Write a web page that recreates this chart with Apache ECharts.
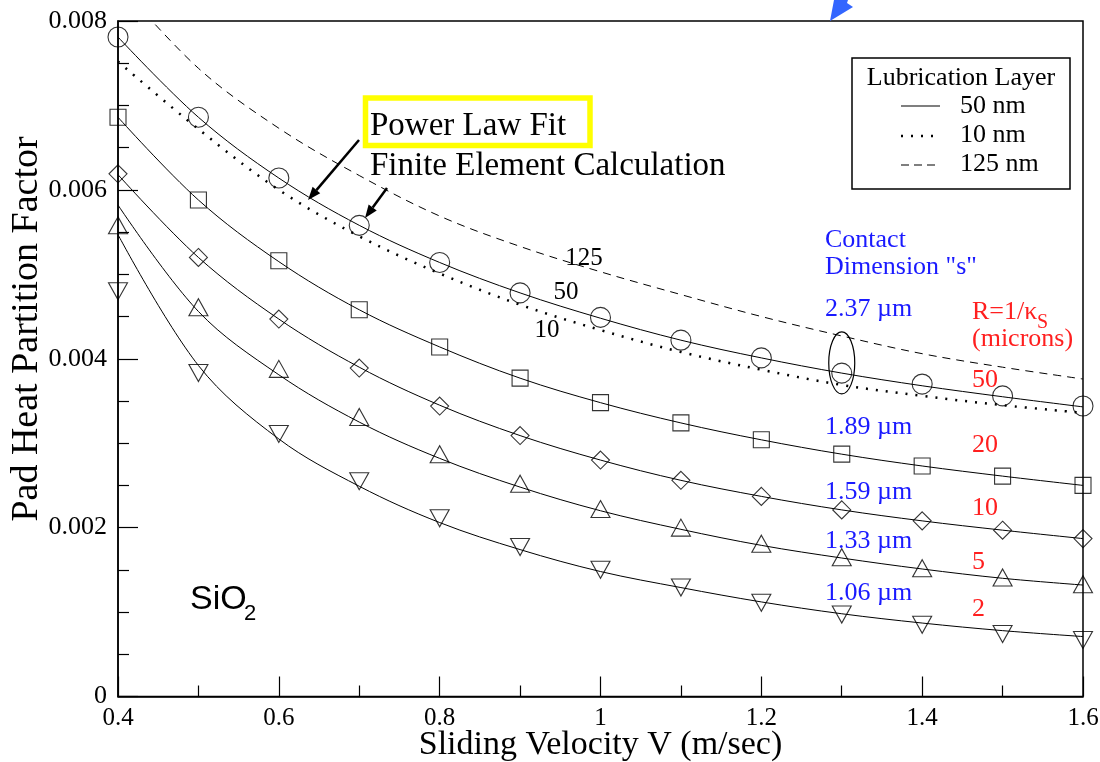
<!DOCTYPE html>
<html><head><meta charset="utf-8">
<script src="https://cdn.jsdelivr.net/npm/echarts@6/dist/echarts.min.js"></script>
<style>html,body{margin:0;padding:0;background:#fff}#c{width:1100px;height:762px}</style>
</head><body><div id="c"></div>
<script>
// ---- data ----
const velocity = [0.4,0.5,0.6,0.7,0.8,0.9,1.0,1.1,1.2,1.3,1.4,1.5,1.6];
const xTickLabels = ['0.4','0.6','0.8','1','1.2','1.4','1.6'];
const yTickLabels = ['0','0.002','0.004','0.006','0.008'];
// Finite element calculation (symbols), 50 nm lubrication layer, R = 50,20,10,5,2 microns
const feR50 = [0.00781,0.00686,0.00614,0.00558,0.00514,0.00478,0.00449,0.00422,0.00401,0.00383,0.00370,0.00356,0.00344];
const feR20 = [0.00686,0.00588,0.00516,0.00458,0.00414,0.00377,0.00348,0.00324,0.00304,0.00287,0.00273,0.00261,0.00250];
const feR10 = [0.00619,0.00520,0.00447,0.00389,0.00344,0.00309,0.00280,0.00256,0.00237,0.00221,0.00208,0.00197,0.00187];
const feR5  = [0.00558,0.00461,0.00388,0.00331,0.00287,0.00252,0.00222,0.00200,0.00181,0.00165,0.00152,0.00141,0.00133];
const feR2  = [0.00480,0.00383,0.00311,0.00255,0.00211,0.00177,0.00150,0.00129,0.00111,0.00097,0.00085,0.00074,0.00067];
// Power law fits (solid lines, 50 nm)
const fitR50 = [0.00781,0.00686,0.00614,0.00558,0.00514,0.00478,0.00448,0.00422,0.00401,0.00383,0.00368,0.00355,0.00343];
const fitR20 = [0.00686,0.00588,0.00515,0.00458,0.00414,0.00377,0.00348,0.00324,0.00304,0.00287,0.00273,0.00261,0.00250];
const fitR10 = [0.00618,0.00520,0.00447,0.00390,0.00345,0.00309,0.00280,0.00256,0.00237,0.00221,0.00208,0.00197,0.00187];
const fitR5  = [0.00582,0.00456,0.00381,0.00325,0.00282,0.00248,0.00220,0.00198,0.00179,0.00164,0.00151,0.00140,0.00132];
const fitR2  = [0.00547,0.00392,0.00305,0.00249,0.00206,0.00174,0.00148,0.00129,0.00112,0.00098,0.00087,0.00078,0.00071];
// Other lubrication layers, R = 50 microns
const lub10nm  = [0.00752,0.00672,0.00600,0.00545,0.00501,0.00464,0.00434,0.00408,0.00387,0.00369,0.00356,0.00345,0.00336];
const lub125nm = [0.00845,0.00744,0.00673,0.00617,0.00569,0.00533,0.00503,0.00476,0.00450,0.00427,0.00406,0.00390,0.00376];
// ellipse marks the 2.37 µm point group at V = 1.3
const ellipseAt = [1.3, 0.00395];

// ---- chart ----
const SERIF = 'Liberation Serif';
const pairs = arr => velocity.map((v,i)=>[v, arr[i]]);
const chart = echarts.init(document.getElementById('c'), null, {renderer:'canvas'});

function fitLine(name, arr, style){
  return {name, type:'line', data:pairs(arr), smooth:0.35, showSymbol:false, symbol:'none', clip:true,
    lineStyle:Object.assign({color:'#000', width:1}, style||{}), silent:true, z:2};
}
function marks(name, arr, symbol, size, rot){
  return {name, type:'scatter', data:pairs(arr), symbol, symbolSize:size, symbolRotate:rot||0,
    itemStyle:{color:'rgba(0,0,0,0)', borderColor:'#000', borderWidth:1.1}, silent:true, z:3};
}

function arrow(x1,y1,x2,y2){
  const dx=x2-x1, dy=y2-y1, L=Math.hypot(dx,dy), ux=dx/L, uy=dy/L;
  const hl=13, hw=5, bx=x2-ux*hl, by=y2-uy*hl;
  return [
    {type:'line', shape:{x1,y1,x2:bx,y2:by}, style:{stroke:'#000', lineWidth:2.5}},
    {type:'polygon', shape:{points:[[x2,y2],[bx-uy*hw,by+ux*hw],[bx+uy*hw,by-ux*hw]]}, style:{fill:'#000'}}
  ];
}
function txt(x,y,text,size,color,align,family){
  return {type:'text', x, y, style:{text, font:size+'px "'+(family||SERIF)+'"', fill:color||'#000',
    align:align||'left', verticalAlign:'middle'}, z:10};
}

const option = {
  animation:false,
  grid:{left:118, right:17, top:21, bottom:65.5, containLabel:false, outerBoundsMode:'none',
    show:true, borderColor:'#000', borderWidth:1.5},
  xAxis:{type:'value', min:0.4, max:1.6, interval:0.2,
    axisLine:{lineStyle:{color:'#000', width:1.5}},
    axisTick:{inside:true, length:20, lineStyle:{color:'#000', width:1.2}},
    minorTick:{show:true, splitNumber:2, length:11, lineStyle:{color:'#000', width:1.2}},
    splitLine:{show:false},
    axisLabel:{margin:9, color:'#000', fontFamily:SERIF, fontSize:25,
      formatter:(v,i)=>xTickLabels[i]},
    name:'Sliding Velocity V (m/sec)', nameLocation:'middle', nameGap:32, nameMoveOverlap:false,
    nameTextStyle:{fontFamily:SERIF, fontSize:34, color:'#000', verticalAlign:'top'}},
  yAxis:{type:'value', min:0, max:0.008, interval:0.002,
    axisLine:{show:true, lineStyle:{color:'#000', width:1.5}},
    axisTick:{show:true, inside:true, length:20, lineStyle:{color:'#000', width:1.2}},
    minorTick:{show:true, splitNumber:4, length:11, lineStyle:{color:'#000', width:1.2}},
    splitLine:{show:false},
    axisLabel:{margin:11, color:'#000', fontFamily:SERIF, fontSize:26,
      formatter:(v,i)=>yTickLabels[i]}},
  series:[
    fitLine('Power Law Fit R=50', fitR50),
    fitLine('Power Law Fit R=20', fitR20),
    fitLine('Power Law Fit R=10', fitR10),
    fitLine('Power Law Fit R=5', fitR5),
    fitLine('Power Law Fit R=2', fitR2),
    fitLine('10 nm', lub10nm, {width:2.5, type:[2,8], cap:'butt'}),
    fitLine('125 nm', lub125nm, {width:1, type:[8,6]}),
    marks('FE R=50', feR50, 'circle', 20),
    marks('FE R=20', feR20, 'rect', 16),
    marks('FE R=10', feR10, 'diamond', [18,18]),
    marks('FE R=5', feR5, 'triangle', [19,17]),
    marks('FE R=2', feR2, 'triangle', [19,17], 180)
  ]
};
chart.setOption(option);

const ec = chart.convertToPixel({gridIndex:0}, ellipseAt);
const g = [];
// y axis title
g.push({type:'text', x:27, y:329, rotation:Math.PI/2, style:{text:'Pad Heat Partition Factor',
  font:'38px "'+SERIF+'"', fill:'#000', align:'center', verticalAlign:'middle'}});
// yellow box + annotation
g.push({type:'rect', shape:{x:365.5, y:98, width:224.5, height:47.5}, style:{fill:'none', stroke:'#ffff00', lineWidth:5.5}, z:9});
g.push(txt(370,126,'Power Law Fit',33));
g.push(txt(370,166,'Finite Element Calculation',33));
g.push(...arrow(359,140,308,200));
g.push(...arrow(387,188,365,218));
// curve labels
g.push(txt(584,258,'125',25,'#000','center'));
g.push(txt(566,292,'50',25,'#000','center'));
g.push(txt(547,330,'10',25,'#000','center'));
// contact dimension (blue)
const BLUE='#1a1aff';
g.push(txt(825,240,'Contact',26,BLUE));
g.push(txt(825,267,'Dimension "s"',26,BLUE));
g.push(txt(825,309,'2.37 µm',26,BLUE));
g.push(txt(825,427,'1.89 µm',26,BLUE));
g.push(txt(825,492,'1.59 µm',26,BLUE));
g.push(txt(825,541,'1.33 µm',26,BLUE));
g.push(txt(825,593,'1.06 µm',26,BLUE));
// R labels (red)
const RED='#ff1f1f';
g.push(txt(972,312,'R=1/κ',26,RED));
g.push(txt(1037,323,'S',20,RED));
g.push(txt(972,339,'(microns)',26,RED));
g.push(txt(972,380,'50',26,RED));
g.push(txt(972,445,'20',26,RED));
g.push(txt(972,508,'10',26,RED));
g.push(txt(972,562,'5',26,RED));
g.push(txt(972,609,'2',26,RED));
// ellipse
g.push({type:'ellipse', shape:{cx:ec[0], cy:ec[1], rx:13, ry:31}, style:{fill:'none', stroke:'#000', lineWidth:1.2}, z:9});
// SiO2
g.push(txt(190,600,'SiO',34,'#000','left','Liberation Sans'));
g.push(txt(244,614,'2',22,'#000','left','Liberation Sans'));
// legend box
g.push({type:'rect', shape:{x:852, y:58, width:218, height:131}, style:{fill:'#fff', stroke:'#000', lineWidth:1.5}, z:8});
g.push(txt(961,78,'Lubrication Layer',26,'#000','center'));
g.push({type:'line', shape:{x1:901,y1:106,x2:940,y2:106}, style:{stroke:'#000', lineWidth:1.2}, z:10});
g.push({type:'line', shape:{x1:901,y1:136,x2:940,y2:136}, style:{stroke:'#000', lineWidth:2.5, lineDash:[2,8]}, z:10});
g.push({type:'line', shape:{x1:901,y1:165,x2:940,y2:165}, style:{stroke:'#000', lineWidth:1.2, lineDash:[8,5]}, z:10});
g.push(txt(960,106,'50 nm',26));
g.push(txt(960,135,'10 nm',26));
g.push(txt(960,164,'125 nm',26));
// blue arrowhead at top edge
g.push({type:'polygon', shape:{points:[[830,21],[834,0],[848,0],[847,3],[853,7]]}, style:{fill:'#3366ff'}, z:10});
chart.setOption({graphic:g});
</script></body></html>
